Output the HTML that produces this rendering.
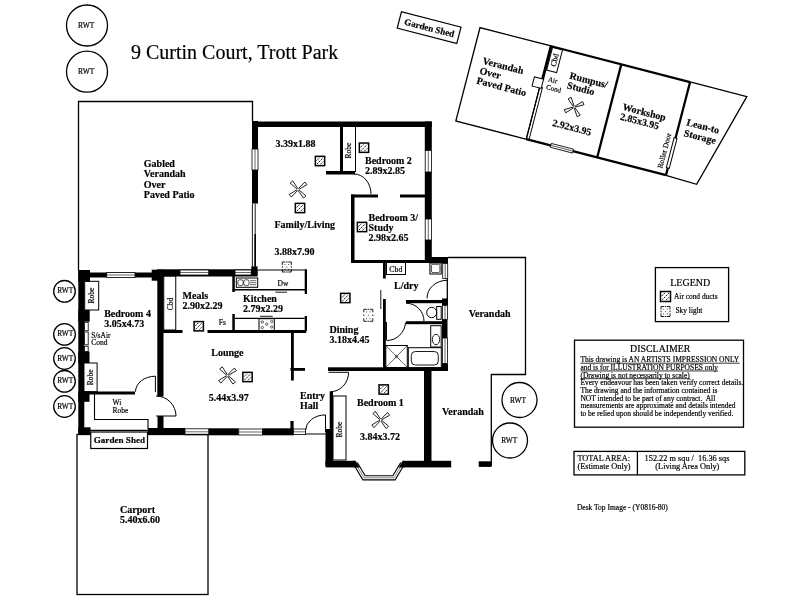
<!DOCTYPE html><html><head><meta charset="utf-8"><style>
html,body{margin:0;padding:0;background:#fff;width:800px;height:600px;overflow:hidden}
svg{display:block;filter:grayscale(1)}
text{font-family:"Liberation Serif",serif;fill:#000;stroke:#000;stroke-width:0.18px}
.w{fill:#000}
</style></head><body>
<svg width="800" height="600" viewBox="0 0 800 600">
<rect width="800" height="600" fill="#fff"/>
<circle cx="87" cy="25.5" r="20.5" fill="none" stroke="#000" stroke-width="1.3"/>
<text x="86.2" y="28.125" font-size="7.5" font-weight="400" text-anchor="middle" >RWT</text>
<circle cx="87" cy="71.7" r="20.5" fill="none" stroke="#000" stroke-width="1.3"/>
<text x="86.2" y="74.325" font-size="7.5" font-weight="400" text-anchor="middle" >RWT</text>
<text x="131" y="58.8" font-size="20" font-weight="400" text-anchor="start" >9 Curtin Court, Trott Park</text>
<polyline points="78.5,270 78.5,101.5 252.5,101.5 252.5,121" fill="none" stroke="#000" stroke-width="1.3"/>
<text x="143.8" y="166.5" font-size="10" font-weight="700" text-anchor="start" >Gabled</text>
<text x="143.8" y="177.0" font-size="10" font-weight="700" text-anchor="start" >Verandah</text>
<text x="143.8" y="187.5" font-size="10" font-weight="700" text-anchor="start" >Over</text>
<text x="143.8" y="198.0" font-size="10" font-weight="700" text-anchor="start" >Paved Patio</text>
<rect x="252" y="121.5" width="179.8" height="5.5" class="w"/>
<rect x="252" y="121" width="6" height="28" class="w"/>
<rect x="252" y="149" width="6" height="21" fill="#fff" stroke="#000" stroke-width="0.8"/>
<line x1="255.0" y1="149" x2="255.0" y2="170" stroke="#000" stroke-width="0.6"/>
<rect x="252" y="170" width="6" height="33.5" class="w"/>
<line x1="252.4" y1="203.5" x2="252.4" y2="266.5" stroke="#000" stroke-width="0.9"/>
<line x1="255.2" y1="203.5" x2="255.2" y2="266.5" stroke="#000" stroke-width="0.9"/>
<line x1="255.2" y1="234" x2="255.2" y2="266.5" stroke="#000" stroke-width="1.6"/>
<rect x="424.8" y="121.5" width="7" height="29" class="w"/>
<rect x="425.2" y="150.5" width="6.2" height="21.5" fill="#fff" stroke="#000" stroke-width="0.8"/>
<line x1="428.3" y1="150.5" x2="428.3" y2="172.0" stroke="#000" stroke-width="0.6"/>
<rect x="424.8" y="172" width="7" height="47" class="w"/>
<rect x="425.2" y="219" width="6.2" height="21" fill="#fff" stroke="#000" stroke-width="0.8"/>
<line x1="428.3" y1="219" x2="428.3" y2="240" stroke="#000" stroke-width="0.6"/>
<rect x="424.8" y="240" width="7" height="23" class="w"/>
<rect x="340" y="127" width="3" height="47" class="w"/>
<line x1="355.5" y1="127" x2="355.5" y2="172" stroke="#000" stroke-width="1.0"/>
<rect x="326" y="171" width="29" height="3.5" class="w"/>
<text x="0" y="0" font-size="7.5" font-weight="400" text-anchor="middle" transform="translate(350.5,150.5) rotate(-90)">Robe</text>
<path d="M354,174 A17,20 0 0 1 371,194" fill="none" stroke="#000" stroke-width="1"/>
<rect x="351" y="194.5" width="27" height="3" class="w"/>
<rect x="400" y="194.5" width="25" height="3" class="w"/>
<rect x="351" y="194.5" width="3.5" height="68" class="w"/>
<rect x="351" y="260" width="80" height="3" class="w"/>
<rect x="425" y="257" width="23" height="6" class="w"/>
<text x="275.5" y="147" font-size="10" font-weight="700" text-anchor="start" >3.39x1.88</text>
<text x="365" y="164" font-size="10" font-weight="700" text-anchor="start" >Bedroom 2</text>
<text x="365" y="174" font-size="10" font-weight="700" text-anchor="start" >2.89x2.85</text>
<text x="274.5" y="227.5" font-size="10" font-weight="700" text-anchor="start" >Family/Living</text>
<text x="274.5" y="255" font-size="10" font-weight="700" text-anchor="start" >3.88x7.90</text>
<text x="368.5" y="221" font-size="10" font-weight="700" text-anchor="start" >Bedroom 3/</text>
<text x="368.5" y="230.5" font-size="10" font-weight="700" text-anchor="start" >Study</text>
<text x="368.5" y="240.5" font-size="10" font-weight="700" text-anchor="start" >2.98x2.65</text>
<g><rect x="315.35" y="156.35" width="9.3" height="9.3" fill="#fff" stroke="#000" stroke-width="1.5"/><path d="M316.65000000000003,160.535 L319.535,157.65 M316.95000000000005,164.05 L323.05,157.95 M320.46500000000003,164.35 L323.35,161.465" stroke="#000" stroke-width="0.9" stroke-dasharray="1.8,0.8"/></g>
<g><rect x="295.35" y="203.35" width="9.3" height="9.3" fill="#fff" stroke="#000" stroke-width="1.5"/><path d="M296.65000000000003,207.535 L299.535,204.65 M296.95000000000005,211.05 L303.05,204.95 M300.46500000000003,211.35 L303.35,208.465" stroke="#000" stroke-width="0.9" stroke-dasharray="1.8,0.8"/></g>
<g><rect x="359.35" y="143.04999999999998" width="9.3" height="9.3" fill="#fff" stroke="#000" stroke-width="1.5"/><path d="M360.65000000000003,147.23499999999999 L363.535,144.35 M360.95000000000005,150.75 L367.05,144.64999999999998 M364.46500000000003,151.04999999999998 L367.35,148.165" stroke="#000" stroke-width="0.9" stroke-dasharray="1.8,0.8"/></g>
<g><rect x="357.35" y="222.35" width="9.3" height="9.3" fill="#fff" stroke="#000" stroke-width="1.5"/><path d="M358.65000000000003,226.535 L361.535,223.65 M358.95000000000005,230.05 L365.05,223.95 M362.46500000000003,230.35 L365.35,227.465" stroke="#000" stroke-width="0.9" stroke-dasharray="1.8,0.8"/></g>
<g transform="translate(298,189.5) scale(1.0)" fill="#fff" stroke="#000" stroke-width="0.8" stroke-linejoin="round">
<path d="M1.2,-0.5 L10,-1.7 L10,1.7 L1.2,0.5 Z" transform="rotate(-131)"/>
<path d="M1.2,-0.5 L10,-1.7 L10,1.7 L1.2,0.5 Z" transform="rotate(-38)"/>
<path d="M1.2,-0.5 L10,-1.7 L10,1.7 L1.2,0.5 Z" transform="rotate(48)"/>
<path d="M1.2,-0.5 L10,-1.7 L10,1.7 L1.2,0.5 Z" transform="rotate(141)"/>
</g>
<path d="M282.3,265.0 V262.0 H285.3 M288.3,262.0 H291.3 V265.0 M291.3,269.0 V272.0 H288.3 M285.3,272.0 H282.3 V269.0 M282.3,266.2 V267.8 M291.3,266.2 V267.8 M286.0,262.0 H287.6 M286.0,272.0 H287.6" fill="none" stroke="#000" stroke-width="0.9"/>
<path d="M284.5,264.6 h0.9 M288.2,264.6 h0.9 M284.5,269.4 h0.9 M288.2,269.4 h0.9 M286.35,267 h0.9" stroke="#000" stroke-width="0.8"/>
<rect x="383" y="262" width="2.8" height="16.5" class="w"/>
<rect x="383" y="299" width="2.8" height="69" class="w"/>
<line x1="380.8" y1="290" x2="380.8" y2="309" stroke="#000" stroke-width="0.9"/>
<rect x="386.5" y="262" width="19" height="12.5" fill="none" stroke="#000" stroke-width="1.0"/>
<text x="395.8" y="271.8" font-size="7.8" font-weight="400" text-anchor="middle" >Cbd</text>
<rect x="429.9" y="263" width="11.3" height="11" fill="none" stroke="#000" stroke-width="1.0"/>
<rect x="431.4" y="264.3" width="8.5" height="8.3" rx="1.5" fill="none" stroke="#000" stroke-width="0.7"/>
<rect x="442" y="257" width="6" height="6.5" class="w"/>
<rect x="442.7" y="263.5" width="5" height="15" fill="#fff" stroke="#000" stroke-width="0.8"/>
<line x1="445.2" y1="263.5" x2="445.2" y2="278.5" stroke="#000" stroke-width="0.6"/>
<line x1="447.3" y1="278.5" x2="447.3" y2="299" stroke="#000" stroke-width="1.3"/>
<rect x="442" y="298.5" width="6" height="6.5" class="w"/>
<rect x="442.5" y="305.5" width="5" height="14" fill="#fff" stroke="#000" stroke-width="0.8"/>
<line x1="445.0" y1="305.5" x2="445.0" y2="319.5" stroke="#000" stroke-width="0.6"/>
<rect x="442" y="319.5" width="5.5" height="18.5" class="w"/>
<rect x="442.5" y="338" width="5" height="25.5" fill="#fff" stroke="#000" stroke-width="0.8"/>
<line x1="445.0" y1="338" x2="445.0" y2="363.5" stroke="#000" stroke-width="0.6"/>
<rect x="442" y="363.5" width="6" height="7.5" class="w"/>
<path d="M427,298.5 A20,18 0 0 1 447,280.3" fill="none" stroke="#000" stroke-width="1"/>
<rect x="406" y="300" width="36" height="3.2" class="w"/>
<rect x="406" y="321.2" width="36" height="3" class="w"/>
<path d="M406,303.2 A18,18 0 0 1 424,321.2" fill="none" stroke="#000" stroke-width="1"/>
<ellipse cx="431.7" cy="312.5" rx="5" ry="5.2" fill="none" stroke="#000" stroke-width="1"/>
<rect x="436.7" y="306.5" width="4.5" height="12.8" fill="none" stroke="#000" stroke-width="1.0"/>
<line x1="386.2" y1="322" x2="386.2" y2="340.5" stroke="#000" stroke-width="1.5"/>
<path d="M387,340.5 A19,19 0 0 0 405.5,322.5" fill="none" stroke="#000" stroke-width="1"/>
<rect x="385.8" y="345.5" width="21.5" height="22" fill="none" stroke="#000" stroke-width="1.0"/>
<line x1="385.8" y1="345.5" x2="407.3" y2="367.5" stroke="#000" stroke-width="0.6"/>
<line x1="407.3" y1="345.5" x2="385.8" y2="367.5" stroke="#000" stroke-width="0.6"/>
<circle cx="396.5" cy="356.5" r="1.3" fill="none" stroke="#000" stroke-width="0.6"/>
<rect x="430.7" y="325.7" width="10.5" height="21.3" fill="none" stroke="#000" stroke-width="1.0"/>
<ellipse cx="436" cy="339.5" rx="3.7" ry="5.2" fill="none" stroke="#000" stroke-width="0.9"/>
<rect x="408.3" y="347.7" width="33" height="20" fill="none" stroke="#000" stroke-width="1.0"/>
<rect x="411.3" y="351.5" width="27" height="13.5" rx="4" fill="none" stroke="#000" stroke-width="0.9"/>
<rect x="328" y="367.3" width="120" height="3.7" class="w"/>
<text x="394" y="288.5" font-size="10" font-weight="700" text-anchor="start" >L/dry</text>
<text x="329.5" y="333" font-size="10" font-weight="700" text-anchor="start" >Dining</text>
<text x="329.5" y="343" font-size="10" font-weight="700" text-anchor="start" >3.18x4.45</text>
<g><rect x="340.65000000000003" y="293.35" width="9.3" height="9.3" fill="#fff" stroke="#000" stroke-width="1.5"/><path d="M341.95000000000005,297.535 L344.83500000000004,294.65000000000003 M342.25000000000006,301.05 L348.35,294.95000000000005 M345.76500000000004,301.35 L348.65000000000003,298.46500000000003" stroke="#000" stroke-width="0.9" stroke-dasharray="1.8,0.8"/></g>
<path d="M363.8,312.3 V309.3 H366.8 M369.8,309.3 H372.8 V312.3 M372.8,318.3 V321.3 H369.8 M366.8,321.3 H363.8 V318.3 M363.8,314.5 V316.1 M372.8,314.5 V316.1 M367.5,309.3 H369.1 M367.5,321.3 H369.1" fill="none" stroke="#000" stroke-width="0.9"/>
<path d="M366.0,311.90000000000003 h0.9 M369.7,311.90000000000003 h0.9 M366.0,318.7 h0.9 M369.7,318.7 h0.9 M367.85,315.3 h0.9" stroke="#000" stroke-width="0.8"/>
<rect x="424" y="367.3" width="7.5" height="99" class="w"/>
<rect x="329.7" y="391.7" width="3.3" height="74" class="w"/>
<rect x="325.5" y="429" width="7.5" height="37" class="w"/>
<line x1="328.5" y1="372.3" x2="348.6" y2="372.3" stroke="#000" stroke-width="1.0"/>
<path d="M348.6,372.3 A18.5,19.5 0 0 1 330.2,391.8" fill="none" stroke="#000" stroke-width="1"/>
<rect x="333" y="396" width="13" height="64" fill="none" stroke="#000" stroke-width="1.0"/>
<text x="0" y="0" font-size="7.5" font-weight="400" text-anchor="middle" transform="translate(342.2,429.5) rotate(-90)">Robe</text>
<rect x="325.5" y="460.8" width="29.5" height="6.6" class="w"/>
<rect x="403.7" y="460.8" width="47.5" height="6.6" class="w"/>
<path d="M355.5,463.5 L364,477.8 L394,477.8 L402.5,463.5" fill="none" stroke="#000" stroke-width="5.2"/>
<path d="M355.5,463.5 L364,477.8 L394,477.8 L402.5,463.5" fill="none" stroke="#fff" stroke-width="3"/>
<path d="M355.5,463.5 L364,477.8 L394,477.8 L402.5,463.5" fill="none" stroke="#000" stroke-width="0.5"/>
<path d="M353.5,460.8 L355.5,460.8 L359.8,467.4 L353.5,467.4 Z M404.5,460.8 L402.7,460.8 L398.6,467.4 L404.5,467.4 Z" fill="#000"/>
<text x="357" y="405.7" font-size="10" font-weight="700" text-anchor="start" >Bedroom 1</text>
<text x="360" y="439.5" font-size="10" font-weight="700" text-anchor="start" >3.84x3.72</text>
<g><rect x="379.05" y="384.85" width="9.3" height="9.3" fill="#fff" stroke="#000" stroke-width="1.5"/><path d="M380.35,389.035 L383.235,386.15000000000003 M380.65000000000003,392.55 L386.75,386.45000000000005 M384.165,392.85 L387.05,389.96500000000003" stroke="#000" stroke-width="0.9" stroke-dasharray="1.8,0.8"/></g>
<g transform="translate(380.7,420) scale(1.0)" fill="#fff" stroke="#000" stroke-width="0.8" stroke-linejoin="round">
<path d="M1.2,-0.5 L10,-1.7 L10,1.7 L1.2,0.5 Z" transform="rotate(-131)"/>
<path d="M1.2,-0.5 L10,-1.7 L10,1.7 L1.2,0.5 Z" transform="rotate(-38)"/>
<path d="M1.2,-0.5 L10,-1.7 L10,1.7 L1.2,0.5 Z" transform="rotate(48)"/>
<path d="M1.2,-0.5 L10,-1.7 L10,1.7 L1.2,0.5 Z" transform="rotate(141)"/>
</g>
<polyline points="448,257.5 525.5,257.5 525.5,374.5 491.3,374.5 491.3,466.2" fill="none" stroke="#000" stroke-width="1.3"/>
<rect x="478.7" y="461.3" width="12.6" height="5.6" class="w"/>
<text x="468.7" y="317.2" font-size="10" font-weight="700" text-anchor="start" >Verandah</text>
<text x="442" y="414.5" font-size="10" font-weight="700" text-anchor="start" >Verandah</text>
<circle cx="519.5" cy="400" r="17.5" fill="none" stroke="#000" stroke-width="1.3"/>
<text x="518.0" y="402.59" font-size="7.4" font-weight="400" text-anchor="middle" >RWT</text>
<circle cx="510" cy="440.5" r="17.5" fill="none" stroke="#000" stroke-width="1.3"/>
<text x="509.2" y="443.09" font-size="7.4" font-weight="400" text-anchor="middle" >RWT</text>
<rect x="78.3" y="270" width="6" height="164.5" class="w"/>
<rect x="78.3" y="270" width="11.7" height="11.7" class="w"/>
<rect x="78.3" y="310" width="11.4" height="11.7" class="w"/>
<rect x="84.6" y="322.3" width="3.6" height="8.5" fill="#fff" stroke="#000" stroke-width="0.8"/>
<rect x="84.6" y="332" width="3.6" height="12.8" fill="#fff" stroke="#000" stroke-width="0.8"/>
<rect x="84.6" y="346.3" width="3.6" height="5.2" fill="#fff" stroke="#000" stroke-width="0.8"/>
<rect x="78.3" y="351.5" width="11.2" height="11.5" class="w"/>
<rect x="90" y="272.5" width="62" height="5" class="w"/>
<rect x="106.7" y="272.5" width="28.3" height="5" fill="#fff" stroke="#000" stroke-width="0.8"/>
<line x1="106.7" y1="275.0" x2="135.0" y2="275.0" stroke="#000" stroke-width="0.6"/>
<rect x="151.7" y="269.7" width="11" height="11" class="w"/>
<rect x="157.3" y="270" width="6.2" height="126.5" class="w"/>
<rect x="157.5" y="416" width="6" height="18.5" class="w"/>
<rect x="84.7" y="281.3" width="14" height="28.7" fill="none" stroke="#000" stroke-width="1.0"/>
<text x="0" y="0" font-size="7.5" font-weight="400" text-anchor="middle" transform="translate(94.3,295.7) rotate(-90)">Robe</text>
<rect x="83.7" y="363" width="13.4" height="28.7" fill="none" stroke="#000" stroke-width="1.0"/>
<text x="0" y="0" font-size="7.5" font-weight="400" text-anchor="middle" transform="translate(93.1,377.3) rotate(-90)">Robe</text>
<rect x="83" y="391.5" width="52" height="3" class="w"/>
<rect x="78.3" y="391.5" width="11.2" height="10.3" class="w"/>
<path d="M94.5,394 V419.5 H148 V429" fill="none" stroke="#000" stroke-width="1.1"/>
<path d="M135.5,391.7 A20,15.5 0 0 1 155.4,376.2" fill="none" stroke="#000" stroke-width="1"/>
<line x1="155.4" y1="376.2" x2="155.4" y2="392" stroke="#000" stroke-width="1.0"/>
<path d="M156,396 A20,20 0 0 1 176,416" fill="none" stroke="#000" stroke-width="1"/>
<line x1="156" y1="416" x2="176" y2="416" stroke="#000" stroke-width="1.0"/>
<rect x="78.3" y="427.3" width="12.2" height="7.2" class="w"/>
<line x1="90" y1="430.3" x2="148" y2="430.3" stroke="#000" stroke-width="1.3"/>
<rect x="148" y="428" width="37" height="6.5" class="w"/>
<rect x="185" y="428.8" width="23.75" height="6" fill="#fff" stroke="#000" stroke-width="0.8"/>
<line x1="185" y1="431.8" x2="208.75" y2="431.8" stroke="#000" stroke-width="0.6"/>
<rect x="208.75" y="428.3" width="30" height="7" class="w"/>
<rect x="238.75" y="429" width="23.75" height="6" fill="#fff" stroke="#000" stroke-width="0.8"/>
<line x1="238.75" y1="432.0" x2="262.5" y2="432.0" stroke="#000" stroke-width="0.6"/>
<rect x="262.5" y="428.3" width="31.1" height="7" class="w"/>
<rect x="293.6" y="429" width="12" height="5.6" fill="#fff" stroke="#000" stroke-width="0.8"/>
<line x1="293.6" y1="431.8" x2="305.6" y2="431.8" stroke="#000" stroke-width="0.6"/>
<line x1="305.6" y1="434" x2="327" y2="434" stroke="#000" stroke-width="1.0"/>
<rect x="157" y="269.3" width="100.5" height="7.2" class="w"/>
<rect x="180" y="270" width="28.75" height="5" fill="#fff" stroke="#000" stroke-width="0.8"/>
<line x1="180" y1="272.5" x2="208.75" y2="272.5" stroke="#000" stroke-width="0.6"/>
<rect x="235" y="270" width="16.25" height="5" fill="#fff" stroke="#000" stroke-width="0.8"/>
<line x1="235" y1="272.5" x2="251.25" y2="272.5" stroke="#000" stroke-width="0.6"/>
<rect x="251.3" y="266.3" width="6.2" height="9.5" class="w"/>
<line x1="257.5" y1="270" x2="306" y2="270" stroke="#000" stroke-width="1.0"/>
<rect x="304.7" y="269.3" width="2.3" height="24.7" class="w"/>
<line x1="232.5" y1="289.8" x2="306" y2="289.8" stroke="#000" stroke-width="1.4"/>
<rect x="232.3" y="270" width="2.5" height="22" class="w"/>
<rect x="232.3" y="314" width="2.5" height="17" class="w"/>
<rect x="236.3" y="278" width="21.4" height="9.3" fill="none" stroke="#000" stroke-width="1.0"/>
<rect x="237.9" y="279.8" width="5.2" height="5.8" rx="1.8" fill="none" stroke="#000" stroke-width="0.7"/><rect x="243.8" y="279.8" width="5.2" height="5.8" rx="1.8" fill="none" stroke="#000" stroke-width="0.7"/>
<line x1="250" y1="280.7" x2="256.3" y2="280.7" stroke="#000" stroke-width="0.6"/>
<line x1="250" y1="282.7" x2="256.3" y2="282.7" stroke="#000" stroke-width="0.6"/>
<line x1="250" y1="284.7" x2="256.3" y2="284.7" stroke="#000" stroke-width="0.6"/>
<text x="277.5" y="286.25" font-size="7.5" font-weight="400" text-anchor="start" >Dw</text>
<line x1="275.4" y1="292.2" x2="287" y2="292.2" stroke="#000" stroke-width="0.9"/>
<line x1="235" y1="318.4" x2="304.7" y2="318.4" stroke="#000" stroke-width="1.1"/>
<rect x="304.7" y="316" width="2.3" height="15" class="w"/>
<rect x="259" y="318.7" width="15.3" height="12" fill="none" stroke="#000" stroke-width="1.0"/>
<circle cx="262.3" cy="322" r="1.2" fill="none" stroke="#000" stroke-width="0.6"/>
<circle cx="271.7" cy="321.5" r="1.2" fill="none" stroke="#000" stroke-width="0.6"/>
<circle cx="266.8" cy="324.2" r="1.2" fill="none" stroke="#000" stroke-width="0.6"/>
<circle cx="262.3" cy="327.5" r="1.2" fill="none" stroke="#000" stroke-width="0.6"/>
<circle cx="271.7" cy="327" r="1.2" fill="none" stroke="#000" stroke-width="0.6"/>
<line x1="260" y1="316.3" x2="272.7" y2="316.3" stroke="#000" stroke-width="0.9"/>
<rect x="163.75" y="276" width="12" height="54" fill="none" stroke="#000" stroke-width="1.0"/>
<text x="0" y="0" font-size="7.5" font-weight="400" text-anchor="middle" transform="translate(172.6,304) rotate(-90)">Cbd</text>
<rect x="163" y="330" width="19.5" height="3" class="w"/>
<rect x="207.5" y="330" width="98.75" height="3" class="w"/>
<text x="218.75" y="325" font-size="7.5" font-weight="400" text-anchor="start" >Fs</text>
<rect x="291" y="333" width="2.8" height="47.5" class="w"/>
<rect x="290.4" y="368" width="14.6" height="2.8" class="w"/>
<rect x="290.4" y="421" width="3.2" height="8" class="w"/>
<line x1="325.5" y1="414.9" x2="325.5" y2="432" stroke="#000" stroke-width="1.0"/>
<path d="M305.6,430 A20,15.5 0 0 1 325.5,414.9" fill="none" stroke="#000" stroke-width="1"/>
<text x="104.2" y="316.7" font-size="10" font-weight="700" text-anchor="start" >Bedroom 4</text>
<text x="104.2" y="326.7" font-size="10" font-weight="700" text-anchor="start" >3.05x4.73</text>
<text x="182.5" y="298.75" font-size="10" font-weight="700" text-anchor="start" >Meals</text>
<text x="182.5" y="308.75" font-size="10" font-weight="700" text-anchor="start" >2.90x2.29</text>
<text x="243" y="301.75" font-size="10" font-weight="700" text-anchor="start" >Kitchen</text>
<text x="243" y="312.2" font-size="10" font-weight="700" text-anchor="start" >2.79x2.29</text>
<text x="211.25" y="355.5" font-size="10" font-weight="700" text-anchor="start" >Lounge</text>
<text x="208.75" y="400.5" font-size="10" font-weight="700" text-anchor="start" >5.44x3.97</text>
<text x="300" y="399.3" font-size="10" font-weight="700" text-anchor="start" >Entry</text>
<text x="300" y="408.7" font-size="10" font-weight="700" text-anchor="start" >Hall</text>
<text x="91.3" y="337.5" font-size="7.5" font-weight="400" text-anchor="start" >S/sAir</text>
<text x="91.3" y="345" font-size="7.5" font-weight="400" text-anchor="start" >Cond</text>
<text x="112.5" y="405" font-size="7.5" font-weight="400" text-anchor="start" >Wi</text>
<text x="112.5" y="413" font-size="7.5" font-weight="400" text-anchor="start" >Robe</text>
<g><rect x="194.1" y="321.6" width="9.3" height="9.3" fill="#fff" stroke="#000" stroke-width="1.5"/><path d="M195.4,325.785 L198.285,322.90000000000003 M195.7,329.3 L201.8,323.20000000000005 M199.215,329.6 L202.1,326.71500000000003" stroke="#000" stroke-width="0.9" stroke-dasharray="1.8,0.8"/></g>
<g><rect x="242.85" y="372.35" width="9.3" height="9.3" fill="#fff" stroke="#000" stroke-width="1.5"/><path d="M244.15,376.535 L247.035,373.65000000000003 M244.45,380.05 L250.55,373.95000000000005 M247.965,380.35 L250.85,377.46500000000003" stroke="#000" stroke-width="0.9" stroke-dasharray="1.8,0.8"/></g>
<g transform="translate(227.5,375.5) scale(1.0)" fill="#fff" stroke="#000" stroke-width="0.8" stroke-linejoin="round">
<path d="M1.2,-0.5 L10,-1.7 L10,1.7 L1.2,0.5 Z" transform="rotate(-131)"/>
<path d="M1.2,-0.5 L10,-1.7 L10,1.7 L1.2,0.5 Z" transform="rotate(-38)"/>
<path d="M1.2,-0.5 L10,-1.7 L10,1.7 L1.2,0.5 Z" transform="rotate(48)"/>
<path d="M1.2,-0.5 L10,-1.7 L10,1.7 L1.2,0.5 Z" transform="rotate(141)"/>
</g>
<circle cx="64.5" cy="291.3" r="10.8" fill="none" stroke="#000" stroke-width="1.3"/>
<text x="65.3" y="293.39" font-size="7.4" font-weight="400" text-anchor="middle" >RWT</text>
<circle cx="64.5" cy="334.4" r="10.8" fill="none" stroke="#000" stroke-width="1.3"/>
<text x="65.3" y="336.48999999999995" font-size="7.4" font-weight="400" text-anchor="middle" >RWT</text>
<circle cx="64.5" cy="358.5" r="10.8" fill="none" stroke="#000" stroke-width="1.3"/>
<text x="65.3" y="360.59" font-size="7.4" font-weight="400" text-anchor="middle" >RWT</text>
<circle cx="64.5" cy="381.3" r="10.8" fill="none" stroke="#000" stroke-width="1.3"/>
<text x="65.3" y="383.39" font-size="7.4" font-weight="400" text-anchor="middle" >RWT</text>
<circle cx="64.5" cy="406.5" r="10.8" fill="none" stroke="#000" stroke-width="1.3"/>
<text x="65.3" y="408.59" font-size="7.4" font-weight="400" text-anchor="middle" >RWT</text>
<rect x="77" y="434.5" width="131" height="160" fill="none" stroke="#000" stroke-width="1.3"/>
<rect x="90.75" y="432" width="56.75" height="16.5" fill="#fff" stroke="#000" stroke-width="1.2"/>
<text x="93.75" y="442.5" font-size="9.1" font-weight="700" text-anchor="start" >Garden Shed</text>
<text x="120" y="513" font-size="10" font-weight="700" text-anchor="start" >Carport</text>
<text x="120" y="523" font-size="10" font-weight="700" text-anchor="start" >5.40x6.60</text>
<g transform="translate(480,27.6) rotate(14.5)">
<rect x="0" y="0" width="72.7" height="96.5" fill="none" stroke="#000" stroke-width="1.3"/>
<path d="M72.7,0.2 H217 M72.7,96.3 H217" stroke="#000" stroke-width="2.3" fill="none"/>
<path d="M146,0 V96.5" stroke="#000" stroke-width="2.3" fill="none"/>
<path d="M217,0 V58 M217,89 V96.5" stroke="#000" stroke-width="2.3" fill="none"/>
<rect x="215.5" y="58" width="3" height="31" fill="none" stroke="#000" stroke-width="1.0"/>
<polyline points="217,0 275.6,0 249,97.5 217,96.5" fill="none" stroke="#000" stroke-width="1.3"/>
<path d="M73.8,0 V34" stroke="#000" stroke-width="2.3" fill="none"/>
<path d="M72.7,42 V96.5 M75.5,42 V96.5" stroke="#000" stroke-width="0.9" fill="none"/>
<rect x="75.2" y="1" width="10.3" height="23.5" fill="none" stroke="#000" stroke-width="1.0"/>
<text x="0" y="0" font-size="7.8" font-weight="400" text-anchor="middle" transform="translate(83,12.8) rotate(-90)">Cbd</text>
<rect x="65" y="34" width="9.5" height="9.5" fill="#fff" stroke="#000" stroke-width="1.0"/>
<text x="79" y="35" font-size="7" font-weight="400" text-anchor="start" >Air</text>
<text x="79" y="43" font-size="7" font-weight="400" text-anchor="start" >Cond</text>
<rect x="98" y="94.3" width="23" height="4" fill="#fff" stroke="#000" stroke-width="0.8"/>
<line x1="98" y1="96.3" x2="121" y2="96.3" stroke="#000" stroke-width="0.6"/>
<text x="11.0" y="34.5" font-size="10" font-weight="700" text-anchor="start" >Verandah</text>
<text x="10.6" y="44.8" font-size="10" font-weight="700" text-anchor="start" >Over</text>
<text x="10.2" y="55.1" font-size="10" font-weight="700" text-anchor="start" >Paved Patio</text>
<text x="99" y="27" font-size="10" font-weight="700" text-anchor="start" >Rumpus/</text>
<text x="99" y="37" font-size="10" font-weight="700" text-anchor="start" >Studio</text>
<g transform="translate(111,53.4) scale(1.0)" fill="#fff" stroke="#000" stroke-width="0.8" stroke-linejoin="round">
<path d="M1.2,-0.5 L10,-1.7 L10,1.7 L1.2,0.5 Z" transform="rotate(-131)"/>
<path d="M1.2,-0.5 L10,-1.7 L10,1.7 L1.2,0.5 Z" transform="rotate(-38)"/>
<path d="M1.2,-0.5 L10,-1.7 L10,1.7 L1.2,0.5 Z" transform="rotate(48)"/>
<path d="M1.2,-0.5 L10,-1.7 L10,1.7 L1.2,0.5 Z" transform="rotate(141)"/>
</g>
<text x="94" y="77" font-size="10" font-weight="700" text-anchor="start" >2.92x3.95</text>
<text x="158" y="44" font-size="10" font-weight="700" text-anchor="start" >Workshop</text>
<text x="158" y="54" font-size="10" font-weight="700" text-anchor="start" >2.85x3.95</text>
<text x="224" y="43" font-size="10" font-weight="700" text-anchor="start" >Lean-to</text>
<text x="224" y="54" font-size="10" font-weight="700" text-anchor="start" >Storage</text>
<text x="0" y="0" font-size="7.5" font-weight="400" text-anchor="middle" transform="translate(211.8,73) rotate(-90)">Roller Door</text>
<rect x="-80" y="4.3" width="61.5" height="17" fill="none" stroke="#000" stroke-width="1.2"/>
<text x="-48.9" y="16.1" font-size="9.1" font-weight="700" text-anchor="middle" >Garden Shed</text>
</g>
<rect x="655.4" y="267.6" width="73.2" height="54" fill="none" stroke="#000" stroke-width="1.3"/>
<text x="690.2" y="285.6" font-size="10" font-weight="400" text-anchor="middle" >LEGEND</text>
<g><rect x="660.5" y="291.5" width="10" height="10" fill="#fff" stroke="#000" stroke-width="1.5"/><path d="M661.8,296.0 L665.0,292.8 M662.1,299.9 L668.9,293.1 M666.0,300.2 L669.2,297.0" stroke="#000" stroke-width="0.9" stroke-dasharray="1.8,0.8"/></g>
<text x="674" y="298.5" font-size="7.4" font-weight="400" text-anchor="start" >Air cond ducts</text>
<path d="M661.0,309.5 V306.5 H664.0 M667.0,306.5 H670.0 V309.5 M670.0,313.5 V316.5 H667.0 M664.0,316.5 H661.0 V313.5 M661.0,310.7 V312.3 M670.0,310.7 V312.3 M664.7,306.5 H666.3 M664.7,316.5 H666.3" fill="none" stroke="#000" stroke-width="0.9"/>
<path d="M663.2,309.1 h0.9 M666.9,309.1 h0.9 M663.2,313.9 h0.9 M666.9,313.9 h0.9 M665.05,311.5 h0.9" stroke="#000" stroke-width="0.8"/>
<text x="675.5" y="313" font-size="7.4" font-weight="400" text-anchor="start" >Sky light</text>
<rect x="574.5" y="340.2" width="169" height="87" fill="none" stroke="#000" stroke-width="1.3"/>
<text x="660.3" y="352.1" font-size="9.9" font-weight="400" text-anchor="middle" >DISCLAIMER</text>
<text x="580.4" y="362.1" font-size="7.5" font-weight="400" text-anchor="start" >This drawing is AN ARTISTS IMPRESSION ONLY</text>
<text x="580.4" y="369.8" font-size="7.5" font-weight="400" text-anchor="start" >and is for ILLUSTRATION PURPOSES only</text>
<text x="580.4" y="377.5" font-size="7.5" font-weight="400" text-anchor="start" >(Drawing is not necessarily to scale)</text>
<text x="580.4" y="385.20000000000005" font-size="7.5" font-weight="400" text-anchor="start" >Every endeavour has been taken verify correct details.</text>
<text x="580.4" y="392.90000000000003" font-size="7.5" font-weight="400" text-anchor="start" >The drawing and the information contained is</text>
<text x="580.4" y="400.6" font-size="7.5" font-weight="400" text-anchor="start" >NOT intended to be part of any contract.&#160; All</text>
<text x="580.4" y="408.3" font-size="7.5" font-weight="400" text-anchor="start" >measurements are approximate and details intended</text>
<text x="580.4" y="416.0" font-size="7.5" font-weight="400" text-anchor="start" >to be relied upon should be independently verified.</text>
<line x1="580.4" y1="363.2" x2="739.6" y2="363.2" stroke="#000" stroke-width="0.8"/>
<line x1="580.4" y1="370.95" x2="718.2" y2="370.95" stroke="#000" stroke-width="0.8"/>
<line x1="580.4" y1="378.7" x2="689.7" y2="378.7" stroke="#000" stroke-width="0.8"/>
<rect x="574" y="451.4" width="170.8" height="23.5" fill="none" stroke="#000" stroke-width="1.3"/>
<line x1="637.4" y1="451.4" x2="637.4" y2="474.9" stroke="#000" stroke-width="1.3"/>
<text x="577.4" y="460.9" font-size="8.3" font-weight="400" text-anchor="start" >TOTAL AREA:</text>
<text x="577.4" y="469.3" font-size="8.3" font-weight="400" text-anchor="start" >(Estimate Only)</text>
<text x="644.6" y="460.9" font-size="8.3" font-weight="400" text-anchor="start" >152.22 m squ /&#160; 16.36 sqs</text>
<text x="655.3" y="469.3" font-size="8.3" font-weight="400" text-anchor="start" >(Living Area Only)</text>
<text x="576.9" y="510" font-size="7.5" font-weight="400" text-anchor="start" >Desk Top Image - (Y0816-80)</text>
</svg></body></html>
